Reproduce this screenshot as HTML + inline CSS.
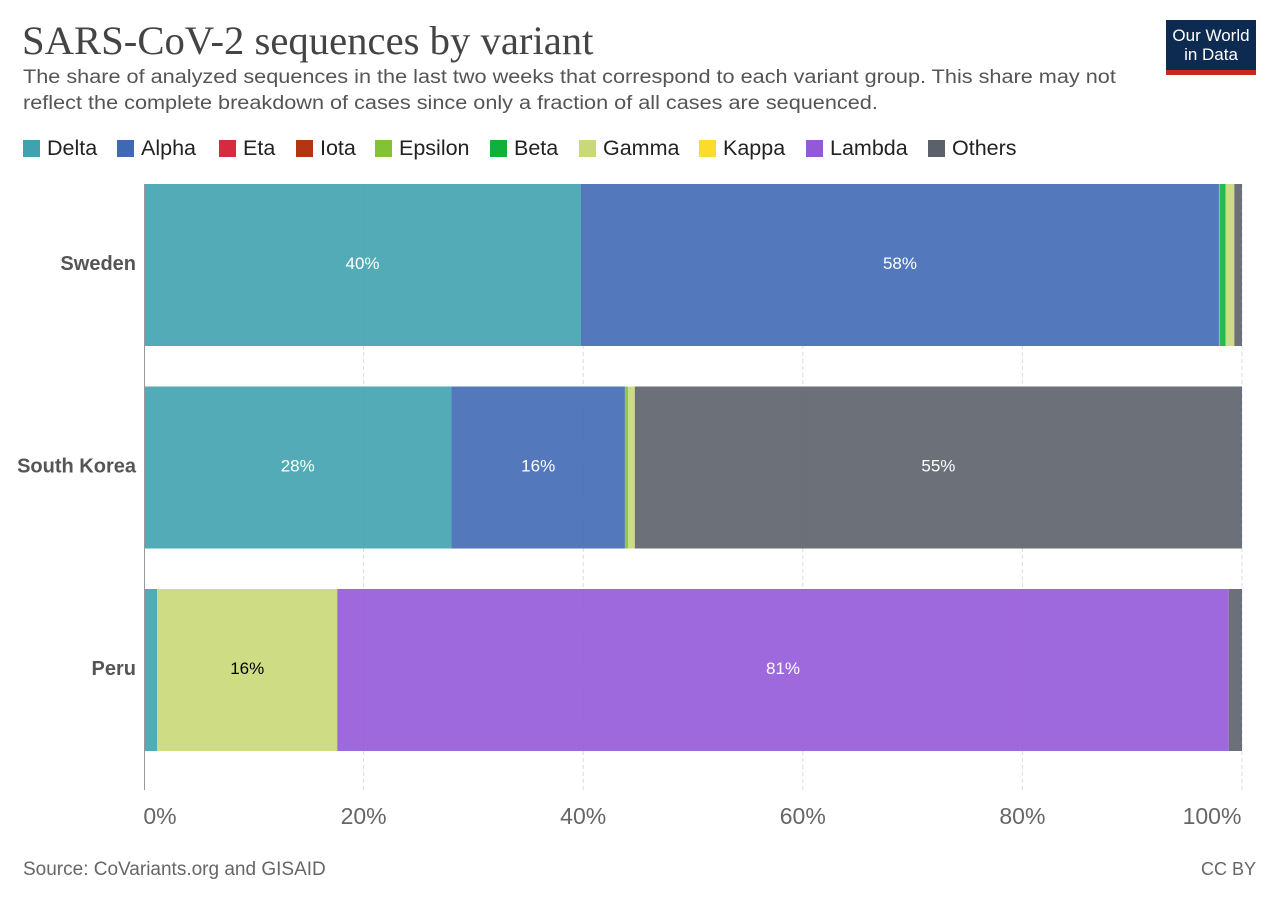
<!DOCTYPE html>
<html><head><meta charset="utf-8"><style>
body{margin:0;width:1280px;height:903px;background:#fff;font-family:"Liberation Sans",sans-serif;position:relative;overflow:hidden}
.t{position:absolute;white-space:nowrap}
</style></head><body>
<div class="t" style="left:22px;top:17px;font-family:'Liberation Serif',serif;font-size:40.7px;color:#444">SARS-CoV-2 sequences by variant</div>
<div class="t" style="left:23px;top:65px;font-size:19px;line-height:26px;color:#555;transform:scaleX(1.14);transform-origin:0 0">The share of analyzed sequences in the last two weeks that correspond to each variant group. This share may not<br>reflect the complete breakdown of cases since only a fraction of all cases are sequenced.</div>
<div style="position:absolute;left:1166px;top:20px;width:90px;height:55px;background:#0d2a50">
<div style="color:#fff;font-size:17px;line-height:19px;text-align:center;padding-top:6px">Our World<br>in Data</div>
<div style="position:absolute;left:0;bottom:0;width:90px;height:5px;background:#ce261e"></div></div>
<div id="legend"></div>
<svg id="c" width="1280" height="903" style="position:absolute;left:0;top:0"></svg>
<div class="t" style="left:23px;top:859px;font-size:19px;color:#666">Source: CoVariants.org and GISAID</div>
<div class="t" style="right:24px;top:859px;font-size:18px;color:#666">CC BY</div>
<script>
const variants=["Delta","Alpha","Eta","Iota","Epsilon","Beta","Gamma","Kappa","Lambda","Others"];
const colors=["#3fa2ae","#4069b4","#d52a3f","#b43514","#83c234","#10b13b","#c9d977","#fbdb2b","#9459d8","#5c606a"];
const countries=["Sweden","South Korea","Peru"];
const sweden=[39.8,58.1,0,0,0.1,0.5,0.8,0,0,0.7];
const southKorea=[28.0,15.8,0,0,0.3,0,0.6,0,0,55.3];
const peru=[1.2,0,0,0,0,0,16.4,0,81.2,1.2];
const series=[sweden,southKorea,peru];
const ticks=[0,20,40,60,80,100];
const NS="http://www.w3.org/2000/svg";
const svg=document.getElementById('c');
const x=v=>144+v*10.98;
const yTop=i=>184+i*202.5, bh=162;
function mk(t,a){const e=document.createElementNS(NS,t);for(const k in a)e.setAttribute(k,a[k]);svg.appendChild(e);return e;}
ticks.forEach(t=>{
 if(t>0){const l=mk('line',{x1:x(t),x2:x(t),y1:184,y2:790,stroke:'#ddd','stroke-dasharray':'4,3'});
 
 }
 const tx=mk('text',{x:x(t)+(t==0?16:t==100?-30:0),y:824,'font-size':23,fill:'#666','text-anchor':'middle','font-family':'Liberation Sans'});
 tx.textContent=t+'%';
 
 
});
series.forEach((s,i)=>{
 let acc=0;
 s.forEach((v,j)=>{
  if(v<=0)return;
  const r=mk('rect',{x:x(acc),y:yTop(i),width:v*10.98,height:bh,fill:colors[j],opacity:0.9});
  
  
  if(v>=10){const tx=mk('text',{x:x(acc+v/2),y:yTop(i)+bh/2+4,'font-size':17,fill:j==6?'#000':'#fff','text-anchor':'middle','font-family':'Liberation Sans'});
   tx.textContent=Math.round(v)+'%';
   
   }
  acc+=v;
 });
 const lb=mk('text',{x:136,y:yTop(i)+bh/2+5,'font-size':20,'font-weight':'bold',fill:'#555','text-anchor':'end','font-family':'Liberation Sans'});
 lb.textContent=countries[i];
 
 
});
const ax=mk('line',{x1:144.5,x2:144.5,y1:184,y2:790,stroke:'#999'});


const lg=document.getElementById('legend');
const lx=[23,117,219,296,375,490,579,699,806,928];
variants.forEach((v,j)=>{
 const d=document.createElement('div');
 d.className='t';d.style.cssText='left:'+lx[j]+'px;top:136px;font-size:21.5px;color:#222;line-height:24px';
 d.innerHTML='<span style="display:inline-block;width:17px;height:17px;background:'+colors[j]+';vertical-align:-2px;margin-right:7px"></span>'+v;
 
 
 lg.appendChild(d);
});
</script>
</body></html>
